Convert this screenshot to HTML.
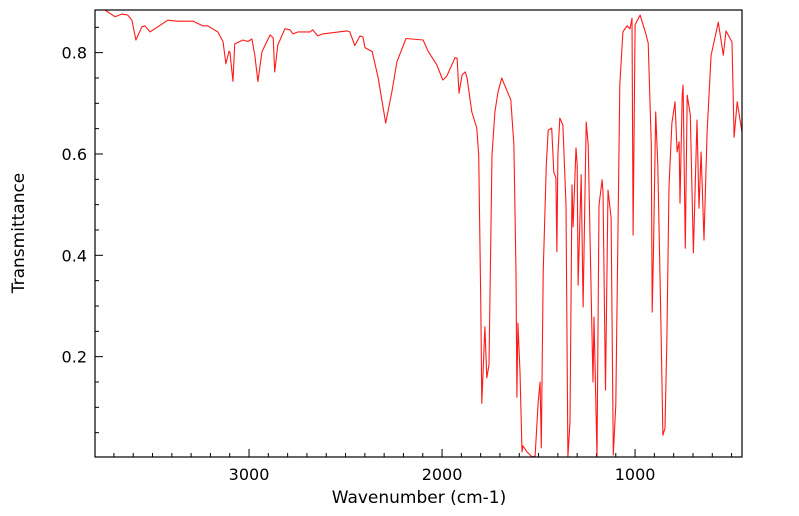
<!DOCTYPE html>
<html><head><meta charset="utf-8"><style>
html,body{margin:0;padding:0;background:#fff;}
svg{display:block;font-family:"DejaVu Sans","Liberation Sans",sans-serif;}
</style></head><body>
<svg id="chart" width="799" height="516" viewBox="0 0 799 516" xmlns="http://www.w3.org/2000/svg">
<g id="ticks"></g>
<path id="line" fill="none" stroke="#ff1a1a" stroke-width="1.1" stroke-linejoin="round"></path>
<rect x="95" y="10" width="647" height="447" fill="none" stroke="#000" stroke-width="1.2"></rect>
<g id="labels" font-size="16" fill="#000"></g>
<text x="419" y="503" font-size="17" text-anchor="middle">Wavenumber (cm-1)</text>
<text x="24" y="233" font-size="17" text-anchor="middle" transform="rotate(-90 24 233)">Transmittance</text>
</svg>
<script>
const wavenumbers=[3799,3747,3694,3660,3628,3607,3586,3555,3539,3513,3421,3374,3290,3240,3214,3162,3135,3120,3104,3099,3083,3074,3064,3032,3006,2985,2970,2954,2933,2891,2875,2867,2851,2814,2788,2772,2746,2683,2670,2644,2618,2494,2478,2452,2425,2410,2399,2362,2331,2292,2260,2234,2187,2098,2071,2027,1996,1990,1975,1933,1922,1912,1896,1880,1870,1846,1820,1810,1799,1794,1778,1768,1757,1741,1726,1710,1691,1665,1644,1628,1617,1612,1607,1596,1586,1581,1560,1533,1518,1502,1492,1486,1476,1460,1450,1432,1421,1410,1405,1400,1390,1374,1358,1348,1337,1327,1321,1306,1300,1295,1279,1269,1253,1243,1224,1218,1213,1197,1187,1171,1166,1153,1140,1124,1113,1100,1079,1063,1042,1026,1016,1010,1000,974,947,932,916,911,905,893,882,866,856,845,835,824,809,793,782,772,767,756,751,740,730,714,698,679,669,658,643,627,606,569,543,529,498,487,471,440];
const transmittance=[.885,.885,.871,.876,.874,.864,.825,.851,.853,.841,.864,.862,.862,.853,.853,.841,.822,.778,.803,.801,.743,.817,.819,.825,.822,.827,.795,.743,.802,.835,.829,.762,.815,.847,.845,.837,.841,.841,.845,.833,.837,.843,.841,.814,.833,.831,.810,.802,.750,.661,.723,.782,.828,.825,.802,.776,.746,.748,.754,.790,.789,.720,.756,.762,.750,.683,.651,.598,.302,.108,.259,.158,.184,.598,.683,.722,.750,.726,.707,.618,.367,.120,.266,.170,.012,.024,.012,.002,.004,.111,.150,.020,.367,.578,.647,.651,.564,.553,.407,.598,.671,.657,.499,.002,.071,.539,.456,.612,.578,.341,.559,.298,.663,.618,.262,.150,.278,.002,.499,.549,.525,.134,.529,.474,.006,.105,.736,.841,.853,.847,.868,.440,.855,.874,.841,.819,.618,.288,.401,.683,.578,.268,.045,.059,.237,.535,.661,.703,.604,.624,.503,.716,.736,.414,.716,.677,.405,.667,.493,.604,.430,.643,.795,.860,.795,.843,.821,.633,.703,.643];
const xTickLabels=[3000,2000,1000];
const yTickLabels=[0.2,0.4,0.6,0.8];
const X0=95,X1=742,Y0=10,Y1=457;
const WN_LEFT=3798,WN_RIGHT=446;
function xs(w){return X0+(WN_LEFT-w)*(X1-X0)/(WN_LEFT-WN_RIGHT);}
function ys(t){return 458-t*506.7;}
const ns="http://www.w3.org/2000/svg";
let d="";
for(let i=0;i<wavenumbers.length;i++){
  const x=Math.max(X0,Math.min(X1,xs(wavenumbers[i])));
  const y=Math.max(Y0,Math.min(Y1,ys(transmittance[i])));
  d+=(i?"L":"M")+x.toFixed(1)+","+y.toFixed(1);
}
document.getElementById("line").setAttribute("d",d);
const tg=document.getElementById("ticks"),lg=document.getElementById("labels");
for(let w=3700;w>=500;w-=100){
  const x=xs(w);if(x<X0||x>X1)continue;
  const major=w%1000===0;
  const l=document.createElementNS(ns,"line");
  
  
  l.setAttribute("x1",x);l.setAttribute("x2",x);l.setAttribute("y1",Y1);l.setAttribute("y2",Y1-(major?8:4));
  l.setAttribute("stroke","#000");tg.appendChild(l);
}
for(let k=1;k<=17;k++){
  const t=k*0.05;const y=ys(t);if(y<Y0)continue;
  const major=k%4===0;
  const l=document.createElementNS(ns,"line");
  
  
  l.setAttribute("x1",X0);l.setAttribute("x2",X0+(major?8:4));l.setAttribute("y1",y);l.setAttribute("y2",y);
  l.setAttribute("stroke","#000");tg.appendChild(l);
}
xTickLabels.forEach(w=>{
  const t=document.createElementNS(ns,"text");
  
  
  t.setAttribute("x",xs(w));t.setAttribute("y",480);t.setAttribute("text-anchor","middle");
  t.textContent=w;lg.appendChild(t);
});
yTickLabels.forEach(v=>{
  const t=document.createElementNS(ns,"text");
  
  
  t.setAttribute("x",87);t.setAttribute("y",ys(v)+6);t.setAttribute("text-anchor","end");
  t.textContent=v.toFixed(1);lg.appendChild(t);
});
</script>
</body></html>
